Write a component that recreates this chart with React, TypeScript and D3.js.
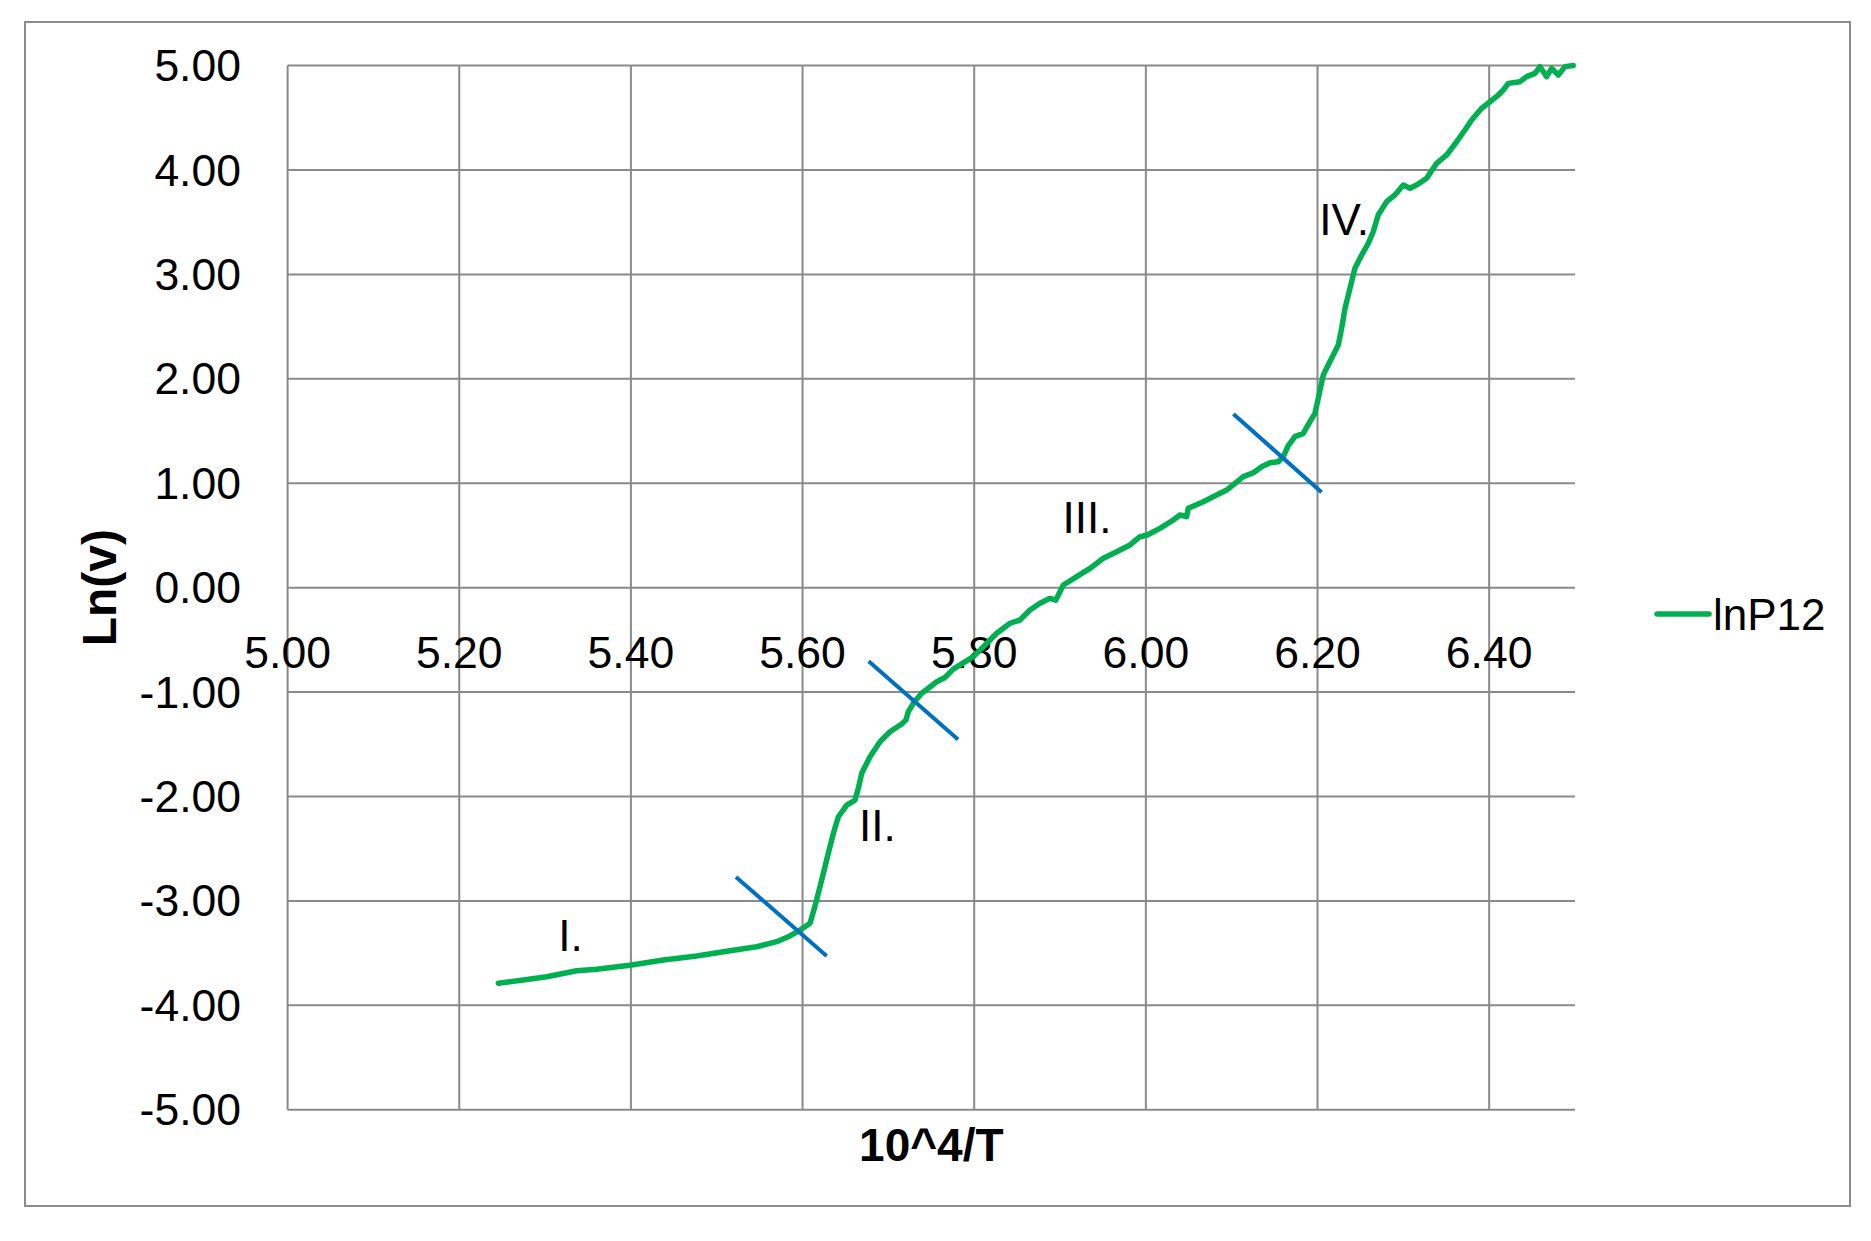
import React from "react";
import * as d3 from "d3";

const xTicks = [5.0, 5.2, 5.4, 5.6, 5.8, 6.0, 6.2, 6.4];
const yTicks = [5, 4, 3, 2, 1, 0, -1, -2, -3, -4, -5];
const seriesName = "lnP12";
const xTitle = "10^4/T";
const yTitle = "Ln(v)";

// lnP12 curve: [10^4/T, Ln(v)]
const lnP12: [number, number][] = [
  [5.2455, -3.789], [5.2746, -3.758], [5.3019, -3.726], [5.3368, -3.669], [5.36, -3.655],
  [5.4009, -3.614], [5.4377, -3.566], [5.4766, -3.528], [5.5154, -3.477], [5.5465, -3.439],
  [5.5698, -3.391], [5.5853, -3.336], [5.597, -3.279], [5.6028, -3.247], [5.6087, -3.215],
  [5.6145, -3.05], [5.6223, -2.8], [5.63, -2.544], [5.6359, -2.353], [5.6417, -2.194],
  [5.6514, -2.082], [5.6611, -2.034], [5.665, -1.922], [5.6689, -1.778], [5.6786, -1.619],
  [5.6902, -1.476], [5.7019, -1.38], [5.7155, -1.306], [5.7205, -1.268], [5.7232, -1.188],
  [5.729, -1.108], [5.7388, -1.012], [5.7465, -0.964], [5.7563, -0.901], [5.766, -0.86],
  [5.7756, -0.78], [5.7854, -0.73], [5.799, -0.66], [5.8067, -0.6], [5.8262, -0.437],
  [5.8417, -0.341], [5.8533, -0.31], [5.865, -0.214], [5.8766, -0.15], [5.8883, -0.102],
  [5.895, -0.12], [5.9038, 0.025], [5.9194, 0.105], [5.9349, 0.185], [5.9504, 0.281],
  [5.966, 0.344], [5.9815, 0.409], [5.9931, 0.488], [6.0016, 0.504], [6.0164, 0.568],
  [6.0319, 0.648], [6.0397, 0.696], [6.0475, 0.68], [6.0494, 0.76], [6.0669, 0.823],
  [6.0825, 0.887], [6.0941, 0.935], [6.1038, 0.999], [6.1135, 1.063], [6.1252, 1.101],
  [6.1349, 1.158], [6.1446, 1.197], [6.1543, 1.206], [6.1601, 1.254], [6.1659, 1.36],
  [6.1737, 1.446], [6.1834, 1.478], [6.1912, 1.589], [6.197, 1.67], [6.2009, 1.814],
  [6.2067, 2.037], [6.2164, 2.197], [6.2242, 2.324], [6.2281, 2.484], [6.232, 2.675],
  [6.2378, 2.867], [6.2436, 3.059], [6.2514, 3.186], [6.2591, 3.298], [6.2649, 3.409],
  [6.2707, 3.569], [6.2805, 3.697], [6.2902, 3.761], [6.2999, 3.856], [6.3077, 3.825],
  [6.3155, 3.856], [6.3271, 3.921], [6.3388, 4.064], [6.3504, 4.144], [6.3621, 4.271],
  [6.3718, 4.383], [6.3796, 4.479], [6.3912, 4.591], [6.4009, 4.654], [6.4106, 4.718],
  [6.4164, 4.766], [6.4223, 4.83], [6.4359, 4.846], [6.4436, 4.894], [6.4533, 4.926],
  [6.4592, 4.99], [6.4669, 4.894], [6.4728, 4.974], [6.4805, 4.91], [6.4883, 4.99],
  [6.498, 5.0],
];

// blue separator segments: [x1, y1, x2, y2]
const separators: [number, number, number, number][] = [
  [5.5224, -2.771, 5.6281, -3.528],
  [5.677, -0.706, 5.7812, -1.455],
  [6.102, 1.663, 6.2047, 0.914],
];

// region labels: [text, x, baseline y]
const regionLabels: [string, number, number][] = [
  ["I.", 5.3153, -3.482],
  ["II.", 5.6658, -2.424],
  ["III.", 5.903, 0.52],
  ["IV.", 6.202, 3.378],
];

const W = 1871;
const H = 1241;
const plot = { left: 287.6, right: 1575, top: 65.6, bottom: 1109.7 };
const FONT = "'Liberation Sans', Arial, sans-serif";
const GRID = "#8a8a8a";
const GREEN = "#00b050";
const BLUE = "#0070c0";

export default function App() {
  const x = d3.scaleLinear().domain([5.0, 6.5]).range([plot.left, plot.right]);
  const y = d3.scaleLinear().domain([-5, 5]).range([plot.bottom, plot.top]);
  const line = d3
    .line<[number, number]>()
    .x((d) => x(d[0]))
    .y((d) => y(d[1]))
    .curve(d3.curveLinear);
  const fmt = (v: number) => v.toFixed(2);

  return (
    <svg
      width={W}
      height={H}
      style={{ position: "absolute", left: 0, top: 0, background: "#fff" }}
      fontFamily={FONT}
    >
      <rect x={0} y={0} width={W} height={H} fill="#fff" />
      <rect x={25} y={22} width={1825} height={1184} fill="#fff" stroke="#8c8c8c" strokeWidth={2} />

      {/* horizontal gridlines */}
      {yTicks.map((t) => (
        <line key={"h" + t} x1={plot.left} x2={plot.right} y1={y(t)} y2={y(t)} stroke={GRID} strokeWidth={2} />
      ))}
      {/* vertical gridlines */}
      {xTicks.map((t) => (
        <line key={"v" + t} x1={x(t)} x2={x(t)} y1={plot.top} y2={plot.bottom} stroke={GRID} strokeWidth={2} />
      ))}

      {/* y tick labels */}
      {yTicks.map((t) => (
        <text
          key={"yl" + t}
          x={241}
          y={y(t)}
          textAnchor="end"
          dominantBaseline="central"
          fontSize={44.5}
          fill="#000"
        >
          {fmt(t)}
        </text>
      ))}
      {/* x tick labels */}
      {xTicks.map((t) => (
        <text key={"xl" + t} x={x(t)} y={y(0) + 80} textAnchor="middle" fontSize={44.5} fill="#000">
          {fmt(t)}
        </text>
      ))}

      {/* axis titles */}
      <text x={(plot.left + plot.right) / 2} y={1161} textAnchor="middle" fontSize={46} fontWeight="bold" fill="#000">
        {xTitle}
      </text>
      <text
        transform={`translate(116, ${y(0)}) rotate(-90)`}
        textAnchor="middle"
        fontSize={48}
        fontWeight="bold"
        fill="#000"
      >
        {yTitle}
      </text>

      {/* data line */}
      <path d={line(lnP12) || ""} fill="none" stroke={GREEN} strokeWidth={5.5} strokeLinejoin="round" strokeLinecap="round" />

      {/* separators */}
      {separators.map((s, i) => (
        <line key={"s" + i} x1={x(s[0])} y1={y(s[1])} x2={x(s[2])} y2={y(s[3])} stroke={BLUE} strokeWidth={4} />
      ))}

      {/* region labels */}
      {regionLabels.map((l) => (
        <text key={l[0]} x={x(l[1])} y={y(l[2])} fontSize={44} fill="#000">
          {l[0]}
        </text>
      ))}

      {/* legend */}
      <line x1={1657} x2={1709} y1={614} y2={614} stroke={GREEN} strokeWidth={5.5} strokeLinecap="round" />
      <text x={1713} y={630} fontSize={44} fill="#000">
        {seriesName}
      </text>
    </svg>
  );
}
